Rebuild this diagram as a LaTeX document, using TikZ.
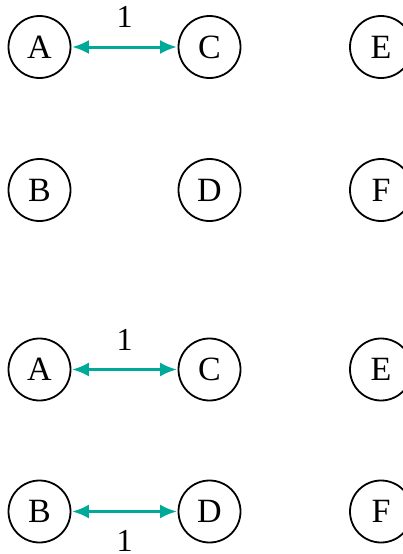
\documentclass[tikz,border=0pt]{standalone}
\usepackage{fontspec}
\setmainfont{Liberation Serif}
\usetikzlibrary{arrows.meta}
\definecolor{edgeteal}{RGB}{0,170,153}
\begin{document}
\begin{tikzpicture}[x=1pt,y=1pt,
  vert/.style={circle, draw=black, line width=1.8pt, minimum size=62pt, inner sep=0pt, font=\fontsize{34}{40}\selectfont},
  link/.style={draw=edgeteal, line width=3pt, {Latex[length=17pt,width=14pt]}-{Latex[length=17pt,width=14pt]}, shorten <=0.5pt, shorten >=0.5pt},
  lab/.style={font=\fontsize{32}{38}\selectfont, inner sep=0pt}]
\useasboundingbox (0,0) rectangle (402,-554);
% top group
\node[vert] (A1) at (39.5,-47) {A};
\node[vert] (C1) at (209.5,-47) {C};
\node[vert] (E1) at (381,-47) {E};
\node[vert] (B1) at (39.5,-190) {B};
\node[vert] (D1) at (209.5,-190) {D};
\node[vert] (F1) at (381,-190) {F};
\draw[link] (A1) -- node[lab, midway, yshift=30pt] (l1) {1} (C1);
% bottom group
\node[vert] (A2) at (39.5,-369.5) {A};
\node[vert] (C2) at (209.5,-369.5) {C};
\node[vert] (E2) at (381,-369.5) {E};
\node[vert] (B2) at (39.5,-511.5) {B};
\node[vert] (D2) at (209.5,-511.5) {D};
\node[vert] (F2) at (381,-511.5) {F};
\draw[link] (A2) -- node[lab, midway, yshift=30pt] (l2) {1} (C2);
\draw[link] (B2) -- node[lab, midway, yshift=-29pt] (l3) {1} (D2);
\end{tikzpicture}
\end{document}
